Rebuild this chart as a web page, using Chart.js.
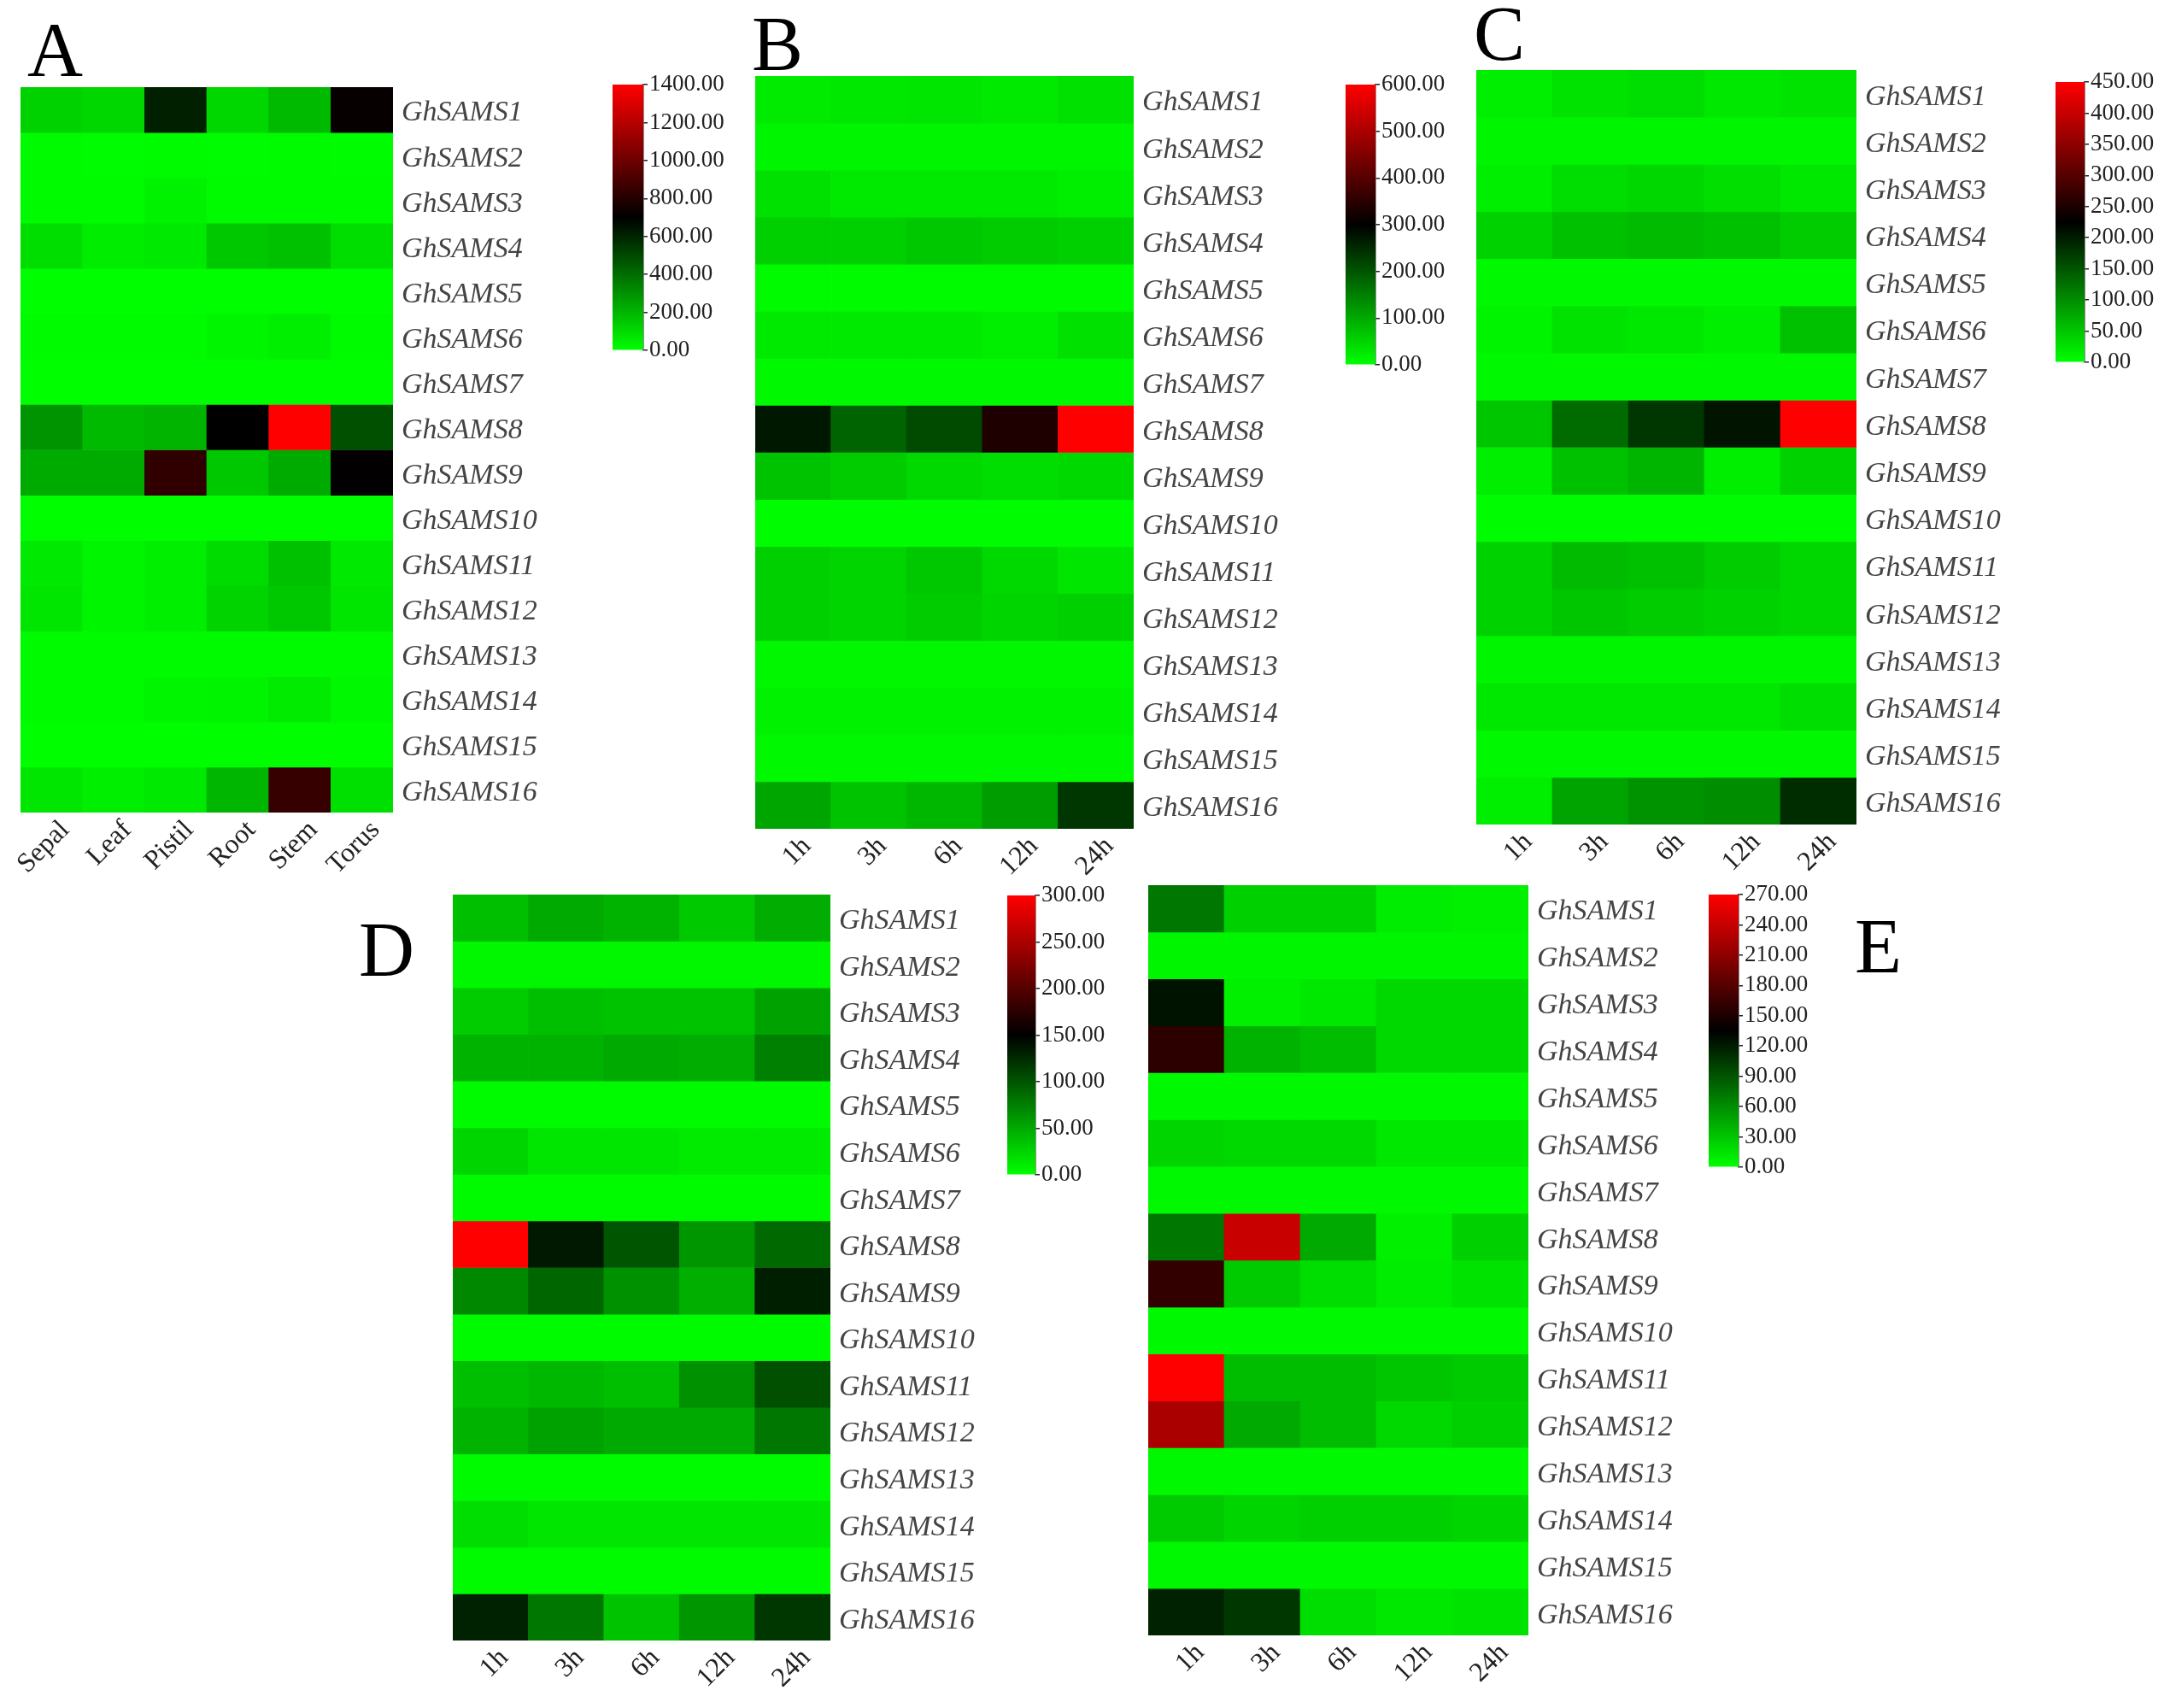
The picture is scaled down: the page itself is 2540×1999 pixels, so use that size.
<!DOCTYPE html>
<html lang="en">
<head>
<meta charset="UTF-8">
<title>GhSAMS expression heatmaps</title>
<script src="https://cdn.jsdelivr.net/npm/chart.js"></script>
<style>
  body { margin: 0; background: #fff; width: 2540px; height: 1999px; position: relative; overflow: hidden; font-family: "Liberation Serif", serif; }
  canvas { position: absolute; }
  .tag { position: absolute; font-size: 90px; line-height: 1; color: #000; }
</style>
</head>
<body>
<div class="tag" style="left:32px;top:14px">A</div>
<div class="tag" style="left:880px;top:7px">B</div>
<div class="tag" style="left:1725px;top:-5px">C</div>
<div class="tag" style="left:420px;top:1067px">D</div>
<div class="tag" style="left:2171px;top:1063px">E</div>
<script>
const genes = ['GhSAMS1', 'GhSAMS2', 'GhSAMS3', 'GhSAMS4', 'GhSAMS5', 'GhSAMS6', 'GhSAMS7', 'GhSAMS8',
               'GhSAMS9', 'GhSAMS10', 'GhSAMS11', 'GhSAMS12', 'GhSAMS13', 'GhSAMS14', 'GhSAMS15', 'GhSAMS16'];
const tissues = ['Sepal', 'Leaf', 'Pistil', 'Root', 'Stem', 'Torus'];
const hours = ['1h', '3h', '6h', '12h', '24h'];

// one row per gene, one column per tissue / time point
const valuesA = [
  [124, 110, 612, 110, 190, 720],
  [10, 8, 10, 8, 10, 8],
  [15, 15, 35, 15, 15, 15],
  [90, 50, 60, 150, 170, 90],
  [5, 5, 5, 5, 5, 5],
  [10, 15, 15, 25, 45, 15],
  [5, 5, 5, 5, 5, 5],
  [290, 190, 205, 700, 1400, 480],
  [230, 230, 832, 150, 230, 705],
  [3, 3, 3, 3, 3, 3],
  [60, 25, 45, 100, 170, 60],
  [70, 25, 45, 120, 150, 70],
  [10, 10, 10, 10, 10, 10],
  [15, 15, 25, 30, 55, 20],
  [5, 5, 5, 5, 5, 5],
  [70, 45, 60, 200, 850, 85]
];
const valuesB = [
  [24, 28, 30, 25, 35],
  [12, 12, 12, 12, 12],
  [35, 25, 25, 25, 20],
  [55, 55, 65, 60, 55],
  [5, 5, 5, 5, 5],
  [25, 25, 25, 20, 35],
  [8, 8, 8, 8, 8],
  [272, 182, 212, 335, 600],
  [70, 60, 45, 40, 45],
  [3, 3, 3, 3, 3],
  [55, 50, 65, 45, 30],
  [55, 50, 60, 50, 55],
  [10, 10, 10, 10, 10],
  [15, 15, 15, 15, 15],
  [8, 8, 8, 8, 8],
  [105, 70, 85, 115, 235]
];
const valuesC = [
  [15, 25, 30, 20, 25],
  [8, 8, 8, 8, 8],
  [15, 30, 35, 28, 20],
  [40, 55, 60, 55, 45],
  [5, 5, 5, 5, 5],
  [10, 25, 20, 15, 55],
  [5, 5, 5, 5, 5],
  [50, 130, 177, 207, 450],
  [15, 55, 65, 15, 40],
  [3, 3, 3, 3, 3],
  [40, 60, 55, 45, 35],
  [40, 50, 45, 40, 35],
  [8, 8, 8, 8, 8],
  [20, 20, 20, 20, 30],
  [5, 5, 5, 5, 5],
  [15, 80, 95, 100, 185]
];
const valuesD = [
  [38, 50, 45, 32, 48],
  [5, 5, 5, 5, 5],
  [30, 38, 35, 35, 55],
  [45, 45, 50, 48, 75],
  [3, 3, 3, 3, 3],
  [25, 15, 15, 12, 12],
  [3, 3, 3, 3, 3],
  [300, 135, 100, 62, 88],
  [70, 90, 65, 47, 132],
  [3, 3, 3, 3, 3],
  [38, 42, 38, 65, 103],
  [45, 55, 50, 50, 80],
  [3, 3, 3, 3, 3],
  [20, 15, 15, 15, 15],
  [3, 3, 3, 3, 3],
  [130, 80, 35, 62, 118]
];
const valuesE = [
  [72, 25, 25, 10, 8],
  [5, 5, 5, 5, 5],
  [125, 8, 12, 20, 20],
  [159, 40, 35, 20, 20],
  [3, 3, 3, 3, 3],
  [22, 20, 20, 12, 12],
  [3, 3, 3, 3, 3],
  [72, 241, 45, 8, 25],
  [162, 28, 18, 10, 15],
  [3, 3, 3, 3, 3],
  [270, 35, 35, 30, 28],
  [225, 45, 35, 20, 25],
  [3, 3, 3, 3, 3],
  [28, 22, 25, 25, 22],
  [3, 3, 3, 3, 3],
  [117, 106, 18, 12, 15]
];
const scaleMax = [1400, 600, 450, 300, 270];
const scaleStep = [200, 100, 50, 50, 30];

// green -> black -> red, black at half of the scale
function heatColor(v, max) {
  const t = Math.max(0, Math.min(v / max, 1));
  if (t < 0.5) return 'rgb(0,' + Math.round(255 * (1 - 2 * t)) + ',0)';
  return 'rgb(' + Math.round(255 * (2 * t - 1)) + ',0,0)';
}

const PAD_L = 70, PAD_T = 10, AXIS_W = 210, AXIS_H = 130;

function addCanvas(left, top, w, h) {
  const cv = document.createElement('canvas');
  cv.width = w;
  cv.height = h;
  cv.style.left = left + 'px';
  cv.style.top = top + 'px';
  document.body.appendChild(cv);
  return cv;
}

function drawHeatmap(cols, values, max, x, y, w, h) {
  const cv = addCanvas(x - PAD_L, y - PAD_T, PAD_L + w + AXIS_W, PAD_T + h + AXIS_H);
  new Chart(cv, {
    type: 'bar',
    data: {
      labels: cols,
      datasets: values.map((row, i) => ({
        label: genes[i],
        data: row.map(() => 1),
        backgroundColor: row.map(v => heatColor(v, max)),
        borderWidth: 0,
        barPercentage: 1,
        categoryPercentage: 1
      }))
    },
    options: {
      responsive: false,
      animation: false,
      layout: { padding: { left: PAD_L, top: PAD_T, right: 0, bottom: 0 } },
      plugins: { legend: { display: false }, tooltip: { enabled: false } },
      scales: {
        x: {
          stacked: true,
          grid: { display: false, drawTicks: false },
          border: { display: false },
          ticks: { autoSkip: false, minRotation: 45, maxRotation: 45, padding: 2, labelOffset: 16,
                   color: '#222', font: { family: 'Liberation Serif', size: 32 } },
          afterFit: s => { s.height = AXIS_H; s.paddingLeft = 0; s.paddingRight = 0; }
        },
        y: { stacked: true, display: false, min: 0, max: genes.length, reverse: true },
        genes: {
          type: 'category', axis: 'y', position: 'right', labels: genes, offset: true,
          grid: { display: false, drawTicks: false },
          border: { display: false },
          ticks: { autoSkip: false, padding: 10, labelOffset: 4, color: '#444',
                   font: { family: 'Liberation Serif', style: 'italic', size: 34 } },
          afterFit: s => { s.width = AXIS_W; s.paddingTop = 0; s.paddingBottom = 0; }
        }
      }
    }
  });
}

function drawColorbar(max, step, x, y, w, h) {
  const cv = addCanvas(x, y - 20, w + 150, h + 40);
  new Chart(cv, {
    type: 'bar',
    data: {
      labels: [''],
      datasets: [{
        data: [max],
        backgroundColor: ctx => {
          const a = ctx.chart.chartArea;
          if (!a) return 'rgb(0,255,0)';
          const g = ctx.chart.ctx.createLinearGradient(0, a.bottom, 0, a.top);
          g.addColorStop(0, 'rgb(0,255,0)');
          g.addColorStop(0.5, 'rgb(0,0,0)');
          g.addColorStop(1, 'rgb(255,0,0)');
          return g;
        },
        borderWidth: 0,
        barPercentage: 1,
        categoryPercentage: 1
      }]
    },
    options: {
      responsive: false,
      animation: false,
      layout: { padding: { top: 20, bottom: 20, left: 0, right: 0 } },
      plugins: { legend: { display: false }, tooltip: { enabled: false } },
      scales: {
        x: { display: false },
        y: {
          position: 'right', min: 0, max: max,
          grid: { drawOnChartArea: false, drawTicks: true, tickLength: 5, color: '#222', lineWidth: 1.5 },
          border: { display: true, color: '#222', width: 1.5 },
          ticks: { stepSize: step, padding: 2, color: '#222',
                   font: { family: 'Liberation Serif', size: 27 },
                   callback: v => Number(v).toFixed(2) },
          afterFit: s => { s.width = 140; s.paddingTop = 0; s.paddingBottom = 0; }
        }
      }
    }
  });
}

drawHeatmap(tissues, valuesA, scaleMax[0], 24, 102, 436, 849);
drawHeatmap(hours, valuesB, scaleMax[1], 884, 89, 443, 881);
drawHeatmap(hours, valuesC, scaleMax[2], 1728, 82, 445, 883);
drawHeatmap(hours, valuesD, scaleMax[3], 530, 1047, 442, 873);
drawHeatmap(hours, valuesE, scaleMax[4], 1344, 1036, 445, 878);

drawColorbar(scaleMax[0], scaleStep[0], 717, 99, 26, 311);
drawColorbar(scaleMax[1], scaleStep[1], 1575, 99, 25, 328);
drawColorbar(scaleMax[2], scaleStep[2], 2406, 96, 24, 328);
drawColorbar(scaleMax[3], scaleStep[3], 1179, 1048, 23, 327);
drawColorbar(scaleMax[4], scaleStep[4], 2000, 1047, 25, 319);
</script>
</body>
</html>
